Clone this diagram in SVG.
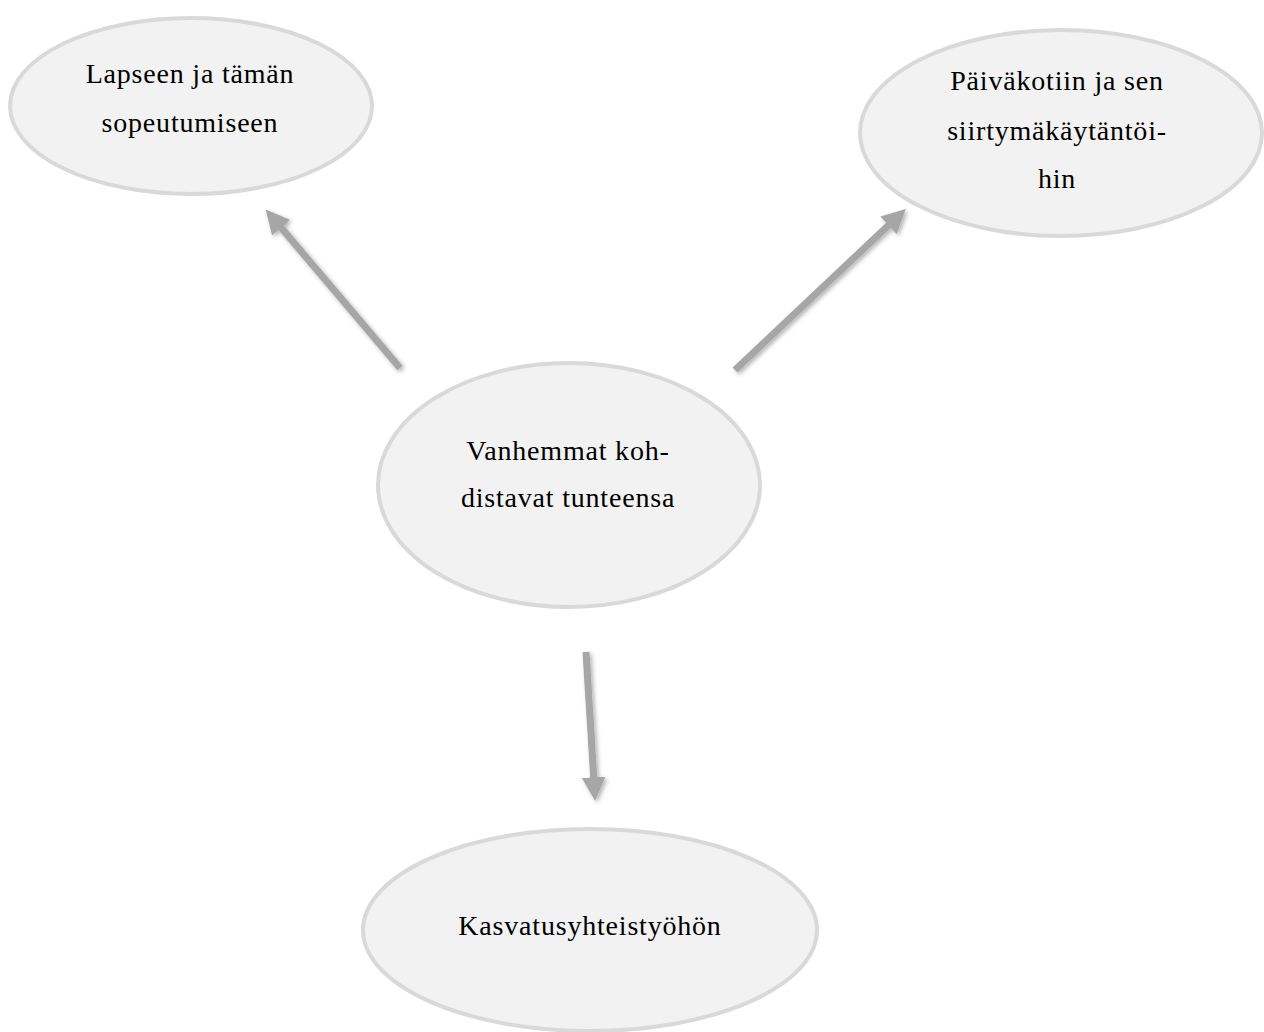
<svg xmlns="http://www.w3.org/2000/svg" width="1264" height="1032" viewBox="0 0 1264 1032">
<style>
.node ellipse{fill:#f2f2f2;stroke:#d9d9d9;stroke-width:4}
.node text{font-family:"Liberation Serif","DejaVu Serif",serif;font-size:28px;letter-spacing:0.8px;fill:#000;text-anchor:middle}
.conn{stroke:#a6a6a6;stroke-width:7;fill:none;marker-end:url(#ah)}
</style>
<defs>
<marker id="ah" viewBox="0 0 10 10" refX="2" refY="5" markerWidth="3.4" markerHeight="3.4" orient="auto" markerUnits="strokeWidth">
<path d="M0,0 L10,5 L0,10 Z" fill="#a6a6a6"/>
</marker>
<filter id="sh" filterUnits="userSpaceOnUse" x="0" y="0" width="1264" height="1032">
<feDropShadow dx="2" dy="2" stdDeviation="2" flood-color="#000" flood-opacity="0.3"/>
</filter>
</defs>
<rect width="1264" height="1032" fill="#fff"/>
<g id="connectors" filter="url(#sh)">
<line class="conn" x1="400" y1="368" x2="278" y2="224"/>
<line class="conn" x1="735" y1="370" x2="892" y2="222"/>
<line class="conn" x1="586" y1="652" x2="594" y2="782"/>
</g>
<g id="n1" class="node">
<ellipse cx="191" cy="106" rx="181" ry="88"/>
<text x="190" y="83">Lapseen ja tämän</text>
<text x="190" y="132">sopeutumiseen</text>
</g>
<g id="n2" class="node">
<ellipse cx="1061" cy="133" rx="201" ry="103"/>
<text x="1057" y="90">Päiväkotiin ja sen</text>
<text x="1057" y="140">siirtymäkäytäntöi-</text>
<text x="1057" y="188">hin</text>
</g>
<g id="n3" class="node">
<ellipse cx="569" cy="485" rx="191" ry="122"/>
<text x="568" y="460">Vanhemmat koh-</text>
<text x="568" y="507">distavat tunteensa</text>
</g>
<g id="n4" class="node">
<ellipse cx="590" cy="930" rx="227" ry="101"/>
<text x="590" y="935">Kasvatusyhteistyöhön</text>
</g>
</svg>
